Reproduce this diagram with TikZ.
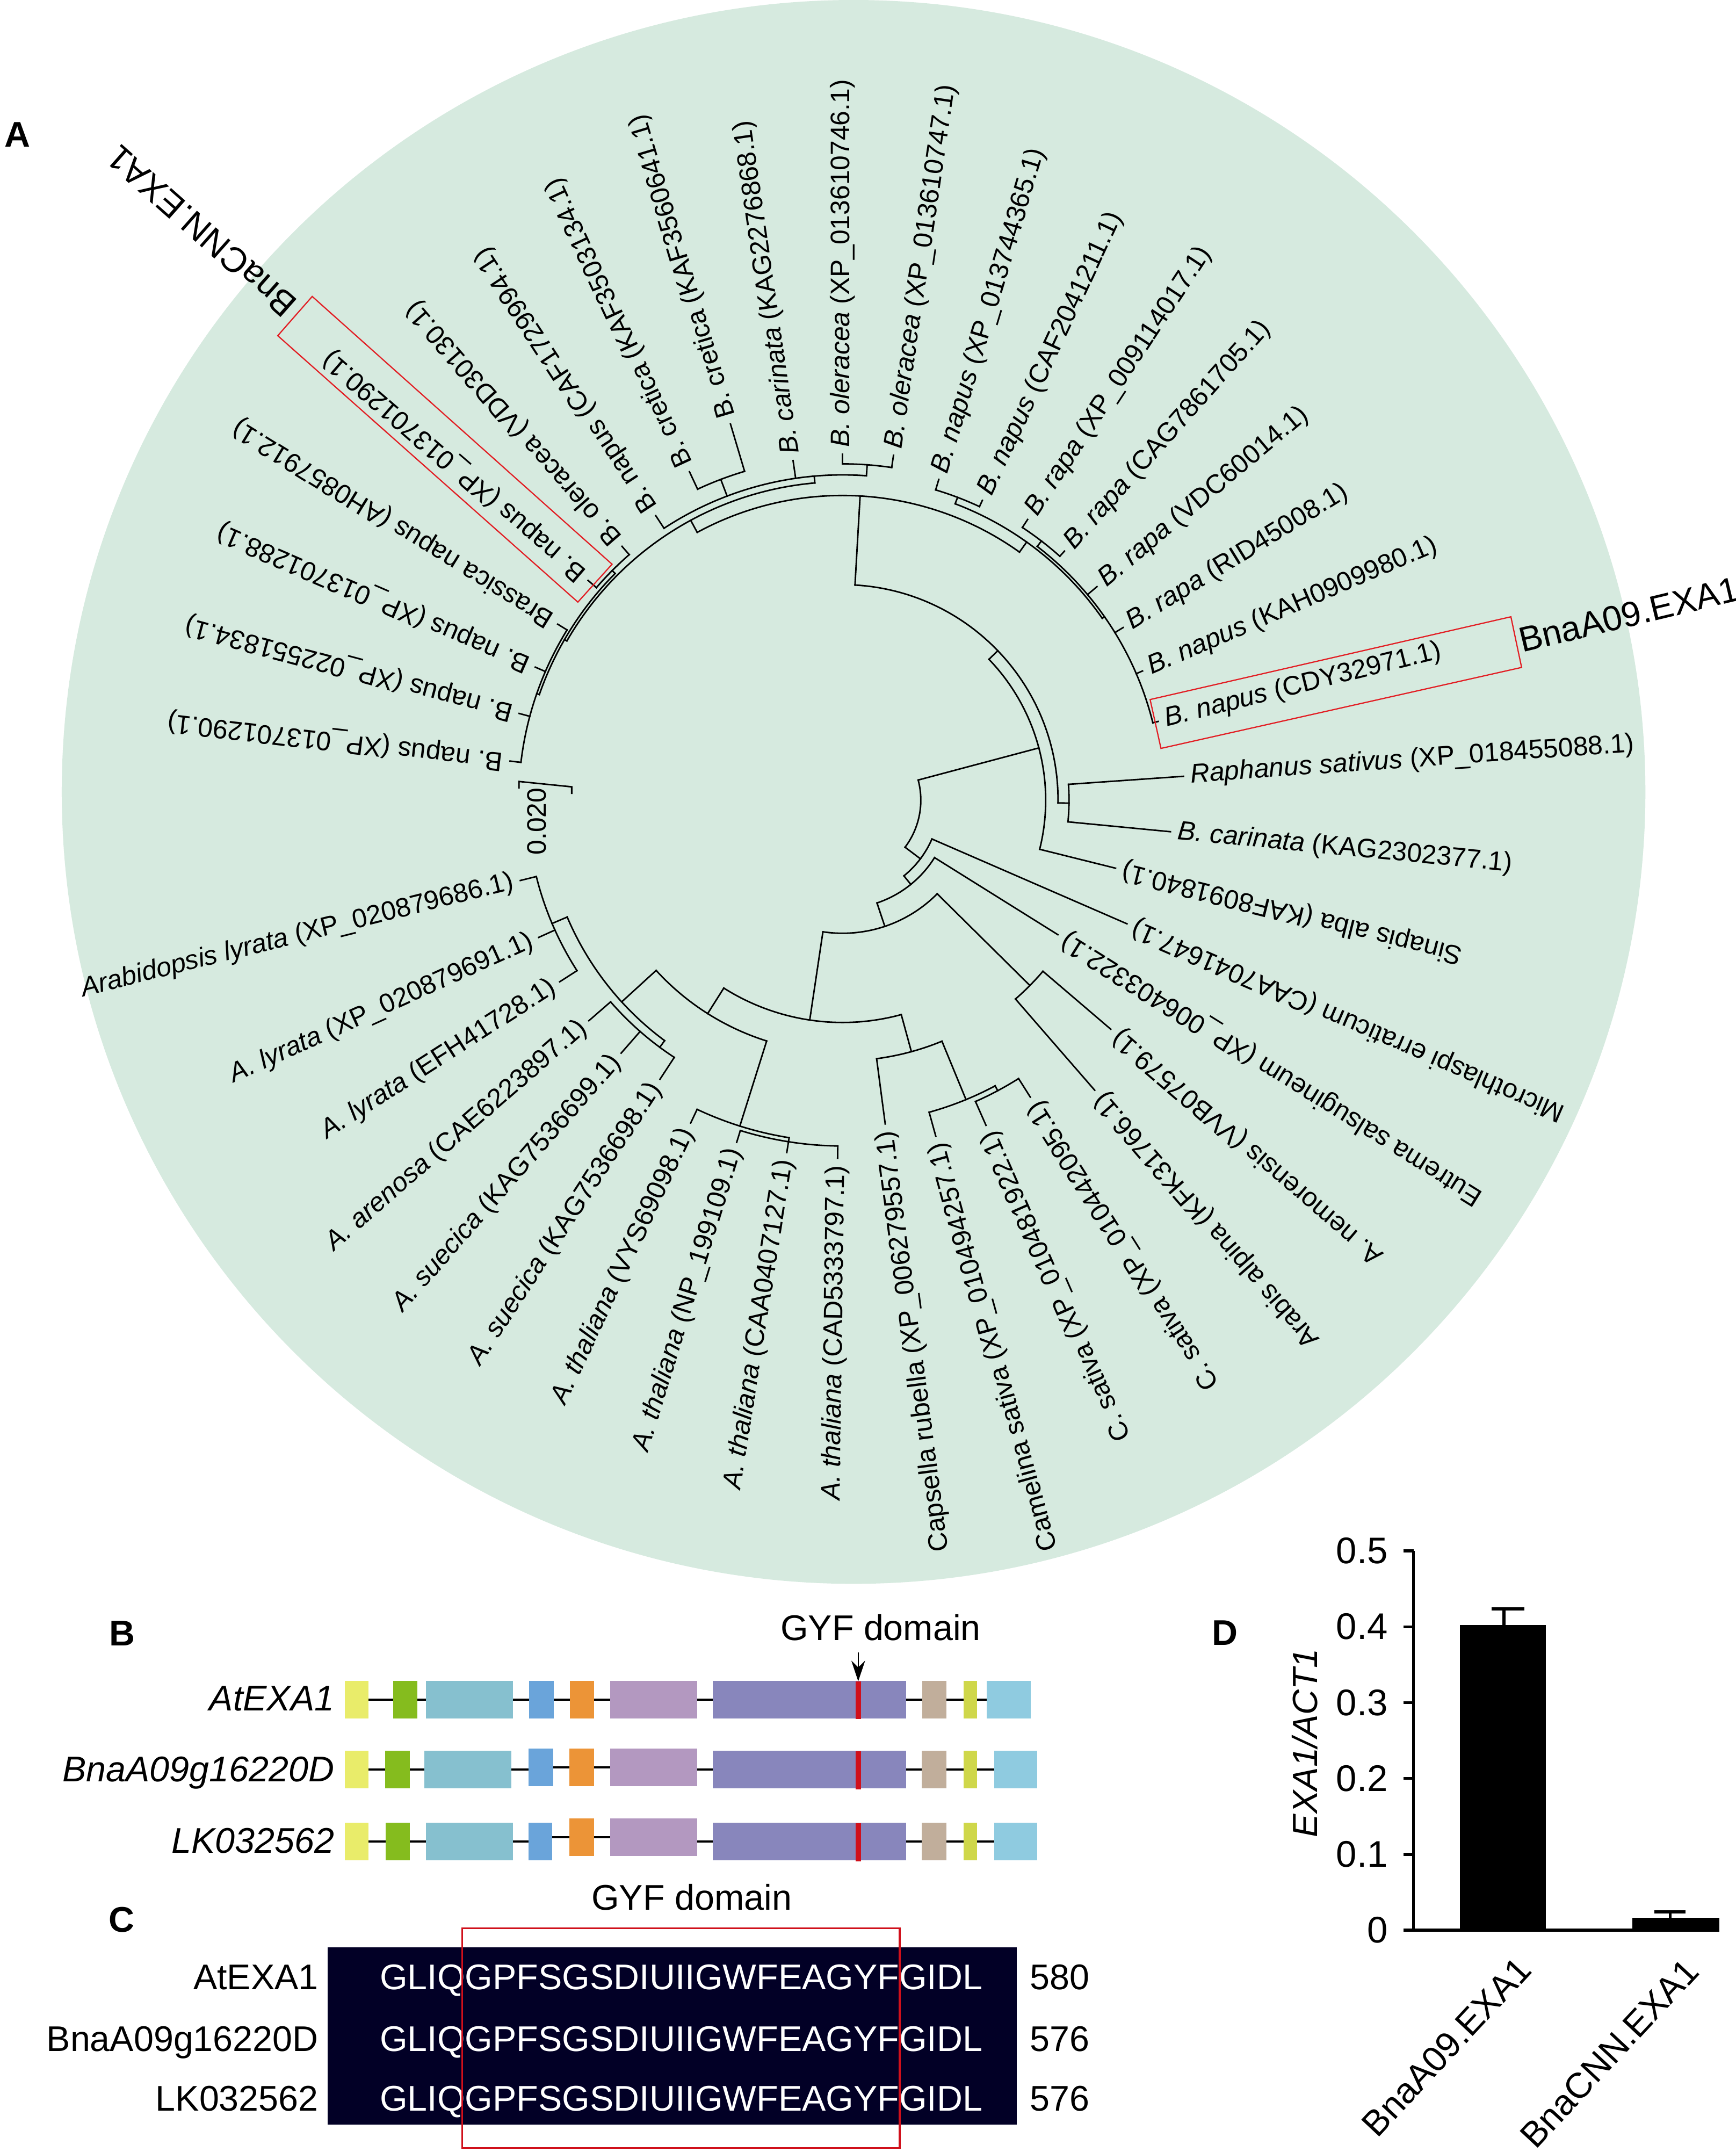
\documentclass[tikz,border=0pt]{standalone}
\usepackage{fontspec}
\setmainfont{Liberation Sans}
\usetikzlibrary{arrows.meta}

\definecolor{circbg}{RGB}{214,234,223}
\definecolor{dyel}{RGB}{233,236,106}
\definecolor{dgrn}{RGB}{133,188,30}
\definecolor{dteal}{RGB}{134,192,207}
\definecolor{dblu}{RGB}{106,164,218}
\definecolor{dorg}{RGB}{236,148,55}
\definecolor{dlil}{RGB}{179,152,192}
\definecolor{dpur}{RGB}{136,134,188}
\definecolor{dtan}{RGB}{193,174,155}
\definecolor{dygr}{RGB}{207,215,74}
\definecolor{dlbl}{RGB}{143,203,224}
\definecolor{gyfred}{RGB}{208,16,27}
\definecolor{seqbg}{RGB}{2,0,38}
\definecolor{boxred}{RGB}{226,30,36}

\newcommand{\leaffont}{\fontsize{19.5}{23}\selectfont}
\newcommand{\bigfont}{\fontsize{26}{30}\selectfont}
% tree pieces: arc at radius #1 from #2 to #3, radial at angle #1 from #2 to #3
\newcommand{\tarc}[3]{\draw[branch] (#2:#1pt) arc[start angle=#2, end angle=#3, radius=#1pt];}
\newcommand{\trad}[3]{\draw[branch] (#1:#2pt) -- (#1:#3pt);}
% domain box from #1 to #2, colour #3, lifted by #4
\newcommand{\dombox}[4]{\fill[#3] (#1,-13.75+#4) rectangle (#2,13.75+#4);}

\begin{document}
\begin{tikzpicture}[x=1pt,y=1pt,
    branch/.style={line width=1.1pt, line cap=rect},
    leaf/.style={font=\leaffont, inner sep=0pt},
    panel/.style={font=\bigfont\bfseries, inner sep=0pt, anchor=base west},
    rowname/.style={font=\bigfont\itshape, inner sep=0pt, anchor=base east},
    seqname/.style={font=\bigfont, inner sep=0pt, anchor=base east},
    backbone/.style={line width=1.7pt},
    axis/.style={line width=2.1pt},
    redbox/.style={draw=boxred, line width=0.9pt}]

  \useasboundingbox (0,0) rectangle (1265,-1568);
  \fill[white] (0,0) rectangle (1265,-1568);

  % Panel A: circular tree
  \fill[circbg] (622,-577) circle (577pt);
  \node[panel] (panA) at (3,-107) {A};

  \begin{scope}[shift={(614,-583)}]
    % Root and deep nodes:
    \tarc{57}{-37}{14.9}
    \trad{14.9}{57}{148}
    \tarc{148}{-14}{43.9}
    \trad{43.9}{148}{157}
    \tarc{157}{-0.75}{86.7}
    \trad{-0.75}{157}{165}
    \tarc{165}{-5.5}{4}
    \trad{86.7}{157}{222}
    \tarc{222}{54.5}{118.5}

    % Left Brassica group:
    \trad{118.5}{222}{232}
    \tarc{232}{95}{150}
    \trad{150}{232}{234}
    \tarc{234}{135.1}{160.8}
    \trad{160.8}{234}{236}
    \tarc{236}{148.3}{173.3}
    \trad{135.1}{234}{237}
    \tarc{237}{131}{139.2}
    \trad{95}{232}{237}
    \tarc{237}{85.8}{123.3}
    \trad{110.8}{237}{250}
    \tarc{250}{106.6}{115}
    \trad{85.8}{237}{245}
    \tarc{245}{81.6}{90}

    % Right Brassica group:
    \trad{54.5}{222}{231}
    \tarc{231}{35}{69.2}
    \trad{69.2}{231}{236}
    \tarc{236}{65}{73.3}
    \trad{35}{231}{233}
    \tarc{233}{14}{52.5}
    \trad{52.5}{233}{238}
    \tarc{238}{48.3}{56.6}

    % Other genera:
    \trad{-37}{57}{71}
    \tarc{71}{-51}{-23.5}
    \trad{-51}{71}{79}
    \tarc{79}{-71.5}{-32}
    \trad{-71.5}{79}{97}
    \tarc{97}{-98.5}{-44.7}
    \trad{-44.7}{97}{192}
    \tarc{192}{-49}{-40.5}
    \trad{-98.5}{97}{162}
    \tarc{162}{-122.3}{-74.7}
    \trad{-74.7}{162}{190}
    \tarc{190}{-82.5}{-67.6}
    \trad{-67.6}{190}{236}
    \tarc{236}{-74.5}{-61.9}
    \trad{-61.9}{236}{240}
    \tarc{240}{-66.2}{-57.7}
    \trad{-122.3}{162}{184}
    \tarc{184}{-137.6}{-107.5}
    \trad{-107.5}{184}{249}
    \tarc{249}{-115.2}{-99}
    \trad{-99}{249}{252}
    \tarc{252}{-107.2}{-90.8}
    \trad{-137.6}{184}{218}
    \tarc{218}{-157}{-126.5}
    \trad{-157}{218}{230}
    \tarc{230}{-166}{-147.3}
    \trad{-126.5}{218}{224}
    \tarc{224}{-139}{-123.2}

    % Leaves reading outwards:
    \foreach \a/\p/\t/\txt [count=\n] in {
      173.3/236/244/{B. napus (XP\_013701290.1)},
      165/236/244/{B. napus (XP\_022551834.1)},
      156.6/236/244/{B. napus (XP\_013701288.1)},
      148.3/236/244/{Brassica napus (AH0857912.1)},
      139.2/237/245/{B. napus (XP\_013701290.1)},
      131/237/245/{B. oleracea (VDD30130.1)},
      123.3/237/248/{B. napus (CAF1729994.1)},
      115/250/264/{B. cretica (KAF3503134.1)},
      106.6/250/286/{B. cretica (KAF3560641.1)},
      98.3/237/250/{\textit{B. carinata} (KAG2276868.1)},
      90/245/252/{\textit{B. oleracea} (XP\_013610746.1)},
      81.6/245/254/{\textit{B. oleracea} (XP\_013610747.1)},
      73.3/236/244/{\textit{B. napus} (XP\_013744365.1)},
      65/236/241/{\textit{B. napus} (CAF2041211.1)},
      56.6/238/245/{\textit{B. rapa} (XP\_009114017.1)},
      48.3/238/243/{\textit{B. rapa} (CAG7861705.1)},
      40/233/242/{\textit{B. rapa} (VDC60014.1)},
      31.6/233/240/{\textit{B. rapa} (RID45008.1)},
      23.3/233/238/{\textit{B. napus} (KAH0909980.1)},
      14/233/237/{\textit{B. napus} (CDY32971.1)},
      4/165/249/{\textit{Raphanus sativus} (XP\_018455088.1)},
      -5.5/165/240/{\textit{B. carinata} (KAG2302377.1)}}{
      \draw[branch] (\a:\p pt) -- (\a:\t pt);
      \pgfmathsetmacro{\lr}{\t+5}
      \node[leaf, anchor=west, rotate=\a] (leaf\n) at (\a:\lr pt) {\txt};
    }

    % Leaves reading inwards:
    \foreach \a/\p/\t/\txt [count=\n from 23] in {
      -14/148/205/{Sinapis alba (KAF8091840.1)},
      -23.5/71/226/{Microthlaspi erraticum (CAA7041647.1)},
      -32/79/185/{Eutrema salsugineum (XP\_006403322.1)},
      -40.5/192/257/{A. nemorensis (VVB07579.1)},
      -49/192/280/{Arabis alpina (KFK31766.1)},
      -57.7/240/256/{C. sativa (XP\_010442095.1)},
      -66.2/240/259/{C. sativa (XP\_010481922.1)},
      -74.5/236/254/{Camelina sativa (XP\_010494257.1)},
      -82.5/190/238/{Capsella rubella (XP\_006279557.1)},
      -90.8/252/261/{\textit{A. thaliana} (CAD5333797.1)},
      -99/252/260/{\textit{A. thaliana} (CAA0407127.1)},
      -107.2/252/261/{\textit{A. thaliana} (NP\_199109.1)},
      -115.2/249/260/{\textit{A. thaliana} (VYS69098.1)},
      -123.2/224/243/{\textit{A. suecica} (KAG7536698.1)},
      -131.2/224/245/{\textit{A. suecica} (KAG7536699.1)},
      -139/224/245/{\textit{A. arenosa} (CAE6223897.1)},
      -147.3/230/245/{\textit{A. lyrata} (EFH41728.1)},
      -155.7/230/243/{\textit{A. lyrata} (XP\_020879691.1)},
      -166/230/242/{\textit{Arabidopsis lyrata} (XP\_020879686.1)}}{
      \draw[branch] (\a:\p pt) -- (\a:\t pt);
      \pgfmathsetmacro{\lr}{\t+5}
      \pgfmathsetmacro{\rr}{\a+180}
      \node[leaf, anchor=east, rotate=\rr] (leaf\n) at (\a:\lr pt) {\txt};
    }
  \end{scope}

  % Scale bar
  \draw[branch] (378.2,-574) -- (378.2,-569.4) -- (416.6,-573.3) -- (416.6,-578);
  \node[leaf, rotate=90] (scale) at (391,-598.5) {0.020};

  % Highlighted genes
  \draw[redbox] (227.5,-216) -- (446,-411.1) -- (421.1,-438.7) -- (202.4,-244.6) -- cycle;
  \draw[redbox] (838.1,-509.7) -- (1101,-449.4) -- (1108.8,-486.3) -- (846,-545.3) -- cycle;
  \node[font=\fontsize{25.6}{30}\selectfont, inner sep=0pt, anchor=west, rotate=138.5] (cnn) at (212,-226) {BnaCNN.EXA1};
  \node[font=\fontsize{25.6}{30}\selectfont, inner sep=0pt, anchor=west, rotate=13.5] (a09) at (1107,-467) {BnaA09.EXA1};

  % Panel B: domain structure
  \node[panel] (panB) at (79.6,-1198.9) {B};
  \node[font=\bigfont, inner sep=0pt, anchor=base] (gyfB) at (641.7,-1195.1) {GYF domain};
  \coordinate (gyftail) at (625.4,-1204);
  \coordinate (gyftip) at (625.4,-1225);
  \draw[line width=1pt, -{Stealth[length=15pt, width=10pt]}] (gyftail) -- (gyftip);

  \node[rowname] (rowAt) at (243.8,-1246.5) {AtEXA1};
  \node[rowname] (rowBna) at (243.8,-1298) {BnaA09g16220D};
  \node[rowname] (rowLK) at (243.8,-1350.3) {LK032562};

  \begin{scope}[shift={(0,-1238.4)}]
    \draw[backbone] (268.7,0) -- (718.9,0);
    \dombox{251.2}{268.7}{dyel}{0}
    \dombox{286.6}{304}{dgrn}{0}
    \dombox{310.4}{373.6}{dteal}{0}
    \dombox{385.6}{403.5}{dblu}{0}
    \dombox{415.4}{432.8}{dorg}{0}
    \dombox{444.8}{508}{dlil}{0}
    \dombox{519.4}{660.2}{dpur}{0}
    \dombox{623.4}{627.4}{gyfred}{-0.5}
    \dombox{672.1}{689.5}{dtan}{0}
    \dombox{702}{711.9}{dygr}{0}
    \dombox{718.9}{751.2}{dlbl}{0}
  \end{scope}
  \begin{scope}[shift={(0,-1289.4)}]
    \draw[backbone] (268.7,0) -- (385,0);
    \draw[backbone] (403,1.6) -- (445,1.6);
    \draw[backbone] (508,0) -- (724.4,0);
    \dombox{251.2}{268.7}{dyel}{0}
    \dombox{280.6}{298.5}{dgrn}{0}
    \dombox{309.4}{372.6}{dteal}{0}
    \dombox{385.1}{403}{dblu}{1.7}
    \dombox{414.9}{432.8}{dorg}{1.7}
    \dombox{444.8}{508}{dlil}{1.7}
    \dombox{519.4}{660.2}{dpur}{0}
    \dombox{623.4}{627.4}{gyfred}{-0.5}
    \dombox{671.6}{689.5}{dtan}{0}
    \dombox{702}{711.9}{dygr}{0}
    \dombox{724.4}{755.7}{dlbl}{0}
  \end{scope}
  \begin{scope}[shift={(0,-1341.8)}]
    \draw[backbone] (268.7,0) -- (385,0);
    \draw[backbone] (402.5,3.3) -- (445,3.3);
    \draw[backbone] (508,0) -- (724.4,0);
    \dombox{251.2}{268.7}{dyel}{0}
    \dombox{281.1}{298.5}{dgrn}{0}
    \dombox{310.4}{373.6}{dteal}{0}
    \dombox{385.1}{402.5}{dblu}{0}
    \dombox{414.9}{432.8}{dorg}{3.3}
    \dombox{444.8}{508}{dlil}{3.3}
    \dombox{519.4}{660.2}{dpur}{0}
    \dombox{623.4}{627.4}{gyfred}{-0.5}
    \dombox{671.6}{689.5}{dtan}{0}
    \dombox{702}{711.9}{dygr}{0}
    \dombox{724.4}{755.7}{dlbl}{0}
  \end{scope}

  % Panel C: alignment
  \node[panel] (panC) at (79,-1407.8) {C};
  \node[font=\bigfont, inner sep=0pt, anchor=base] (gyfC) at (504,-1391.5) {GYF domain};
  \fill[seqbg] (238.8,-1419) rectangle (741,-1548);
  \foreach \nm/\num/\yb [count=\n] in {AtEXA1/580/1449.5, BnaA09g16220D/576/1494.5, LK032562/576/1538}{
    \node[seqname] (seqname\n) at (232.2,-\yb) {\nm};
    \node[font=\bigfont, text=white, inner sep=0pt, anchor=base west] (seq\n) at (276.6,-\yb) {GLIQGPFSGSDIUIIGWFEAGYFGIDL};
    \node[font=\bigfont, inner sep=0pt, anchor=base west] (seqend\n) at (750.2,-\yb) {\num};
  }
  \draw[draw=gyfred, line width=1.4pt] (336.8,-1405) rectangle (655.7,-1565);

  % Panel D: expression
  \node[panel] (panD) at (883,-1198.5) {D};
  \draw[axis] (1030.1,-1130) -- (1030.1,-1406.4) -- (1252.8,-1406.4);
  \foreach \v [count=\k from 0] in {0,0.1,0.2,0.3,0.4,0.5}{
    \draw[axis] (1022.6,-1406.4+\k*55.28) -- (1030.1,-1406.4+\k*55.28);
    \node[font=\fontsize{27}{30}\selectfont, inner sep=0pt, anchor=east] (tick\k) at (1011.5,-1406.4+\k*55.28) {\v};
  }
  \node[font=\fontsize{25.5}{30}\selectfont\itshape, inner sep=0pt, rotate=90] (ylab) at (950.7,-1270) {EXA1/ACT1};
  \fill (1063.9,-1406.4) rectangle (1126.6,-1184.2);
  \draw[axis] (1096,-1184.2) -- (1096,-1172.3);
  \draw[axis] (1086.9,-1172.3) -- (1110.7,-1172.3);
  \fill (1189.6,-1406.4) rectangle (1252.8,-1397.5);
  \draw[axis] (1217,-1397.5) -- (1217,-1393);
  \draw[axis] (1205.4,-1393) -- (1228.4,-1393);
  \node[font=\fontsize{26}{30}\selectfont, inner sep=0pt, anchor=north east, rotate=47] (barA09) at (1104,-1424) {BnaA09.EXA1};
  \node[font=\fontsize{26}{30}\selectfont, inner sep=0pt, anchor=north east, rotate=47] (barCNN) at (1226,-1425) {BnaCNN.EXA1};
\end{tikzpicture}
\end{document}
